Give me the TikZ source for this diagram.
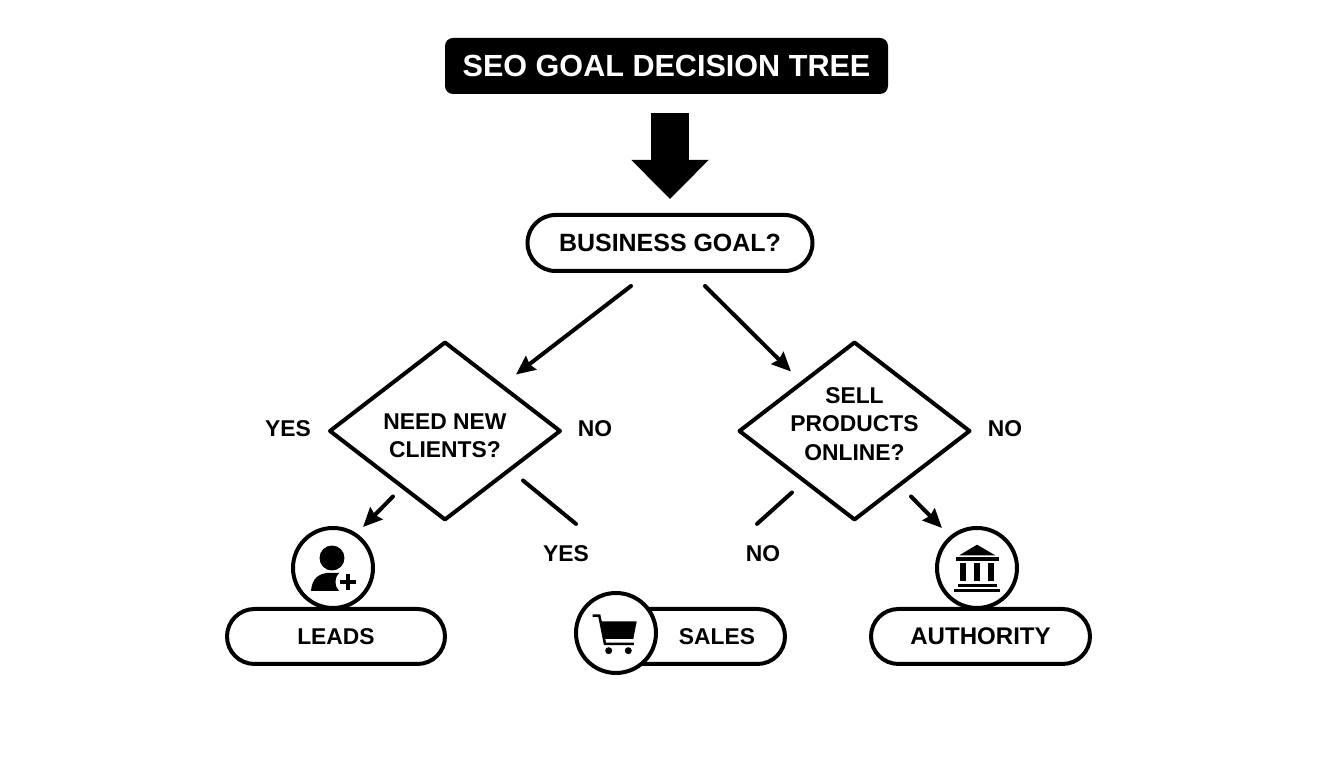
\documentclass[tikz,border=0pt]{standalone}
\usepackage{fontspec}
\setmainfont{Liberation Sans}
\usetikzlibrary{arrows.meta,positioning,shapes.geometric,calc}

\begin{document}
\begin{tikzpicture}[>={Stealth[length=.19cm,width=.17cm,inset=.02cm]},line width=.04cm,
                    font=\bfseries\fontsize{6.5}{8}\selectfont]
  \tikzstyle{heading}=[fill=black,text=white,rounded corners=.08cm,minimum width=4.43cm,minimum height=.56cm,outer sep=0pt,font=\bfseries\fontsize{8.7}{10}\selectfont]
  \tikzstyle{pill}=[draw,fill=white,rounded corners=.275cm,minimum height=.55cm,minimum width=2.18cm,outer sep=0pt]
  \tikzstyle{decide}=[draw,diamond,aspect=1.3,minimum width=2.3cm,minimum height=1.77cm,inner sep=-.4cm,outer sep=0pt,align=center,line join=round]
  \tikzstyle{badge}=[draw,circle,fill=white,minimum size=.8cm,inner sep=0pt,outer sep=0pt]
  \tikzstyle{lbl}=[inner sep=0pt,outer sep=.02cm]
  \tikzstyle{flow}=[->,line cap=round]
  \tikzstyle{stub}=[line cap=round]
  \tikzstyle{icon}=[x=.01cm,y=-.01cm,line width=.025cm]

  \useasboundingbox (0,0) rectangle (13.44,7.68);

  \node[heading]	(title)	at (6.665,7.02)	{SEO GOAL DECISION TREE};
  \node[pill,minimum width=2.85cm,minimum height=.56cm,rounded corners=.28cm]	(goal)	[below of=title,node distance=1.77cm,xshift=.035cm]	{\fontsize{7.1}{8}\selectfont BUSINESS GOAL?};
  \node[decide]	(need)	[below of=goal,node distance=1.88cm,xshift=-2.25cm]	{\rule{0pt}{.255cm}NEED NEW\\CLIENTS?};
  \node[decide]	(sell)	[right of=need,node distance=4.095cm]	{SELL\\PRODUCTS\\\rule[-.14cm]{0pt}{0pt}ONLINE?};

  \node[lbl]	(needyes)	[left of=need,node distance=1.57cm,yshift=.02cm]	{YES};
  \node[lbl]	(needno)	[right of=need,node distance=1.5cm,yshift=.02cm]	{NO};
  \node[lbl]	(sellno)	[right of=sell,node distance=1.505cm,yshift=.02cm]	{NO};
  \node[lbl]	(salesyes)	[below of=need,node distance=1.23cm,xshift=1.21cm]	{YES};
  \node[lbl]	(shopno)	[below of=sell,node distance=1.23cm,xshift=-.915cm]	{NO};

  \node[pill]	(leads)	[below of=need,node distance=2.055cm,xshift=-1.09cm]	{LEADS};
  \node[pill,minimum width=2cm]	(sales)	[below of=need,node distance=2.055cm,xshift=2.4cm]	{\hspace*{.64cm}SALES};
  \node[pill,minimum width=2.19cm]	(authority)	[below of=sell,node distance=2.055cm,xshift=1.26cm]	{\fontsize{6.85}{8}\selectfont AUTHORITY};

  \node[badge]	(leadsicon)	[above of=leads,node distance=.685cm,xshift=-.03cm]	{};
  \node[badge]	(salesicon)	[left of=sales,node distance=.69cm,yshift=.035cm]	{};
  \node[badge]	(bankicon)	[above of=authority,node distance=.685cm,xshift=-.035cm]	{};

  \coordinate (bigstart) at (goal |- title.south);
  \draw[-{Triangle[length=.39cm,width=.75cm]},line width=.38cm,shorten <=.19cm,shorten >=.16cm] (bigstart) -- (goal.north);

  \draw[flow] ([xshift=-.39cm,yshift=-.15cm]goal.south) -- ([xshift=.71cm,yshift=-.32cm]need.north);
  \draw[flow] ([xshift=.35cm,yshift=-.15cm]goal.south) -- ([xshift=-.635cm,yshift=-.29cm]sell.north);
  \draw[flow] ([xshift=-.52cm,yshift=.23cm]need.south) -- ([xshift=.3cm,yshift=.01cm]leadsicon.north);
  \draw[flow] ([xshift=.565cm,yshift=.23cm]sell.south) -- ([xshift=-.35cm]bankicon.north);
  \draw[stub] ([xshift=.78cm,yshift=.39cm]need.south) -- ([xshift=.1cm,yshift=.2cm]salesyes.north);
  \draw[stub] ([xshift=-.625cm,yshift=.27cm]sell.south) -- ([xshift=-.06cm,yshift=.2cm]shopno.north);

  \begin{scope}[shift={(leadsicon.center)},icon]
    \fill (-1,-10) circle [radius=12.5];
    \fill (-22,23) .. controls (-21,10) and (-14,6) .. (-6,5) -- (8,5) -- (15,23) -- cycle;
    \fill[white] (15,14) circle [radius=12.5];
    \draw[line width=.035cm] (7,14) -- (23,14) (15,6) -- (15,22);
  \end{scope}

  \begin{scope}[shift={(salesicon.center)},icon]
    \fill (-15.3,-11.7) -- (20.7,-11.7) -- (17.3,6) -- (-11.7,6) -- cycle;
    \draw (-23.3,-17.3) -- (-16.7,-17.3) -- (-11,11) -- (18,11);
    \fill (-7.3,17.7) circle [radius=3.5];
    \fill (12.3,17.7) circle [radius=3.5];
  \end{scope}

  \begin{scope}[shift={(bankicon.center)},icon]
    \fill (0,-23.3) -- (18.3,-12.7) -- (-17.7,-12.7) -- cycle;
    \fill (-20.7,-10.7) rectangle (21.7,-7);
    \fill (-16.7,-5.3) rectangle (-10.7,13.3);
    \fill (-2.7,-5.3) rectangle (3.3,13.3);
    \fill (11,-5.3) rectangle (16.7,13.3);
    \fill (-19.3,15.7) rectangle (20,19);
    \fill (-22.7,20.7) rectangle (22.7,24);
  \end{scope}
\end{tikzpicture}
\end{document}
